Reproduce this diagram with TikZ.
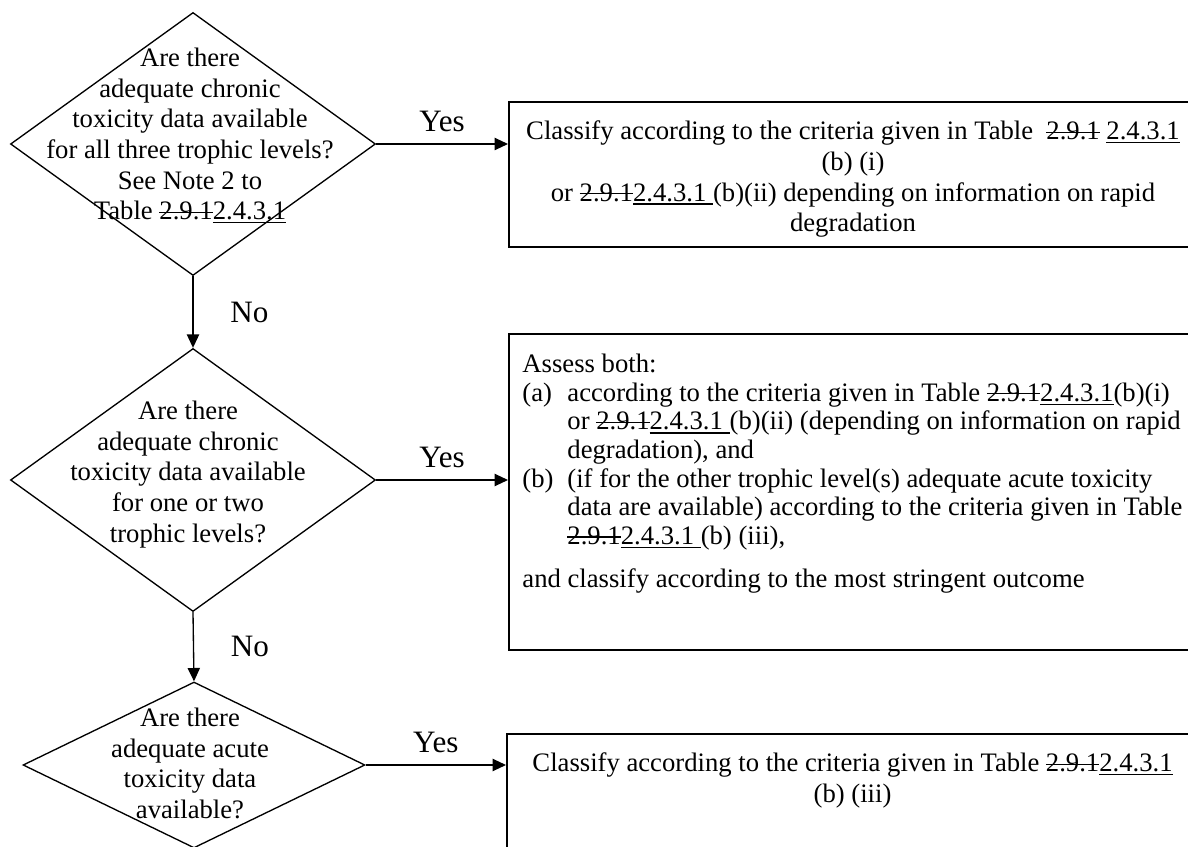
\documentclass[tikz,border=0pt]{standalone}
\usepackage{fontspec}
\setmainfont{Liberation Serif}
\usetikzlibrary{shapes.geometric,arrows.meta,positioning}
\newsavebox{\refbox}
\newcommand{\oldref}[1]{\sbox{\refbox}{#1}\rlap{\rule[0.26em]{\wd\refbox}{0.6pt}}\usebox{\refbox}}
\newcommand{\newref}[1]{\sbox{\refbox}{#1}\rlap{\rule[-1.6pt]{\wd\refbox}{0.6pt}}\usebox{\refbox}}
\newcommand{\itemlab}[1]{\makebox[20.25pt][l]{#1}}

\begin{document}
\begin{tikzpicture}[x=0.45pt,y=-0.45pt,
        decision/.style={draw,diamond,line width=0.6pt,inner sep=0pt},
        outbox/.style={draw,rectangle,line width=0.9pt,inner sep=0pt,anchor=north west},
        body/.style={inner sep=0pt,font=\fontsize{12}{13.8}\selectfont},
        answer/.style={inner sep=0pt,font=\fontsize{14}{16}\selectfont},
        flow/.style={-{Triangle[length=6pt,width=5.5pt]},line width=0.6pt}]
            \useasboundingbox (0,0) rectangle (1188,847);
            \clip (0,0) rectangle (1188,847);
            \node[decision,minimum width=164.25pt,minimum height=118.35pt] (q1) at (193,144) {};
            \node[decision,minimum width=164.25pt,minimum height=118.35pt] (q2) at (193,480) {};
            \node[decision,minimum width=153.9pt,minimum height=74.7pt] (q3) at (194,765) {};
            \node[body,align=center,anchor=north] (q1t) at (190,47.5) {Are there\\adequate chronic\\toxicity data available\\for all three trophic levels?\\See Note 2 to\\Table \oldref{2.9.1}\newref{2.4.3.1}};
            \node[body,align=center,anchor=north] (q2t) at (188,400.5) {Are there\\adequate chronic\\toxicity data available\\for one or two\\trophic levels?};
            \node[body,align=center,anchor=north] (q3t) at (190,707.5) {Are there\\adequate acute\\toxicity data\\available?};
            \node[outbox,minimum width=309.6pt,minimum height=65.25pt] (b1) at (508,101) {};
            \node[outbox,minimum width=310pt,minimum height=142.2pt] (b2) at (508,333) {};
            \node[outbox,minimum width=311pt,minimum height=75pt] (b3) at (506,733) {};
            \node[body,align=center,anchor=north,below=8.8pt of b1.north] (b1t) {Classify according to the criteria given in Table \ \oldref{2.9.1} \newref{2.4.3.1}\\(b) (i)\\or \oldref{2.9.1}\newref{2.4.3.1\ }(b)(ii) depending on information on rapid\\degradation};
            \node[body,font=\fontsize{12}{12.9}\selectfont,align=left,below right=9.3pt and 6.3pt of b2.north west] (b2t) {Assess both:\\
                \itemlab{(a)}according to the criteria given in Table \oldref{2.9.1}\newref{2.4.3.1}(b)(i)\\
                \itemlab{}or \oldref{2.9.1}\newref{2.4.3.1\ }(b)(ii) (depending on information on rapid\\
                \itemlab{}degradation), and\\
                \itemlab{(b)}(if for the other trophic level(s) adequate acute toxicity\\
                \itemlab{}data are available) according to the criteria given in Table\\
                \itemlab{}\oldref{2.9.1}\newref{2.4.3.1\ }(b) (iii),\\[6.5pt]
                and classify according to the most stringent outcome};
            \node[body,align=center,below=8.8pt of b3.north] (b3t) {Classify according to the criteria given in Table \oldref{2.9.1}\newref{2.4.3.1}\\(b) (iii)};
            \draw[flow] (q1.east) -- node[answer,above=5.4pt] (y1) {Yes} (q1.east -| b1.west);
            \draw[flow] (q2.east) -- node[answer,above=5.4pt] (y2) {Yes} (q2.east -| b2.west);
            \draw[flow] (q3.east) -- node[answer,above=5.4pt] (y3) {Yes} (q3.east -| b3.west);
            \draw[flow] (q1.south) -- node[answer,right=16.5pt] (n1) {No} (q2.north);
            \draw[flow] (q2.south) -- node[answer,right=16.5pt] (n2) {No} (q3.north);
        \end{tikzpicture}
\end{document}
